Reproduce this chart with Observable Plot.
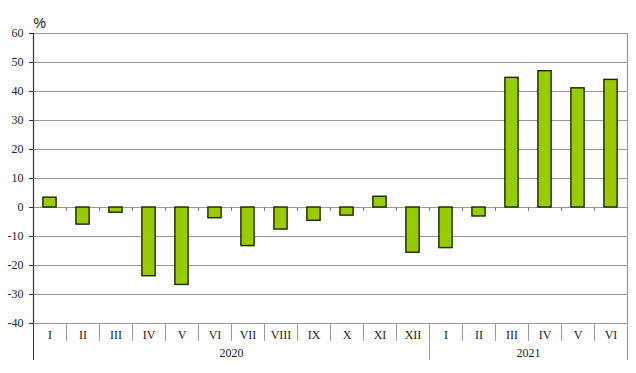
<!DOCTYPE html>
<html><head><meta charset="utf-8">
<script src="https://cdn.jsdelivr.net/npm/d3@7"></script>
<script src="https://cdn.jsdelivr.net/npm/@observablehq/plot@0.6"></script>
<style>body{margin:0;background:#fff}</style>
</head><body><div id="chart"></div>
<script>
const months = ["I","II","III","IV","V","VI","VII","VIII","IX","X","XI","XII","I","II","III","IV","V","VI"];
const years = ["2020","2021"];
const yearCounts = [12, 6];
const values = [3.4,-5.9,-1.8,-23.7,-26.7,-3.7,-13.3,-7.6,-4.6,-2.8,3.7,-15.6,-14.0,-3.1,44.7,47.0,41.1,44.0];
const yTicks = [-40,-30,-20,-10,0,10,20,30,40,50,60];

const data = values.map((v, i) => ({i, month: months[i], value: v}));
const idx = months.map((_, i) => i);
let start = 0;
const yearSpans = years.map((y, k) => { const s = start; start += yearCounts[k]; return {year: y, s, e: start}; });
const yearEdges = [-0.5, ...yearSpans.map(d => d.e - 0.5)];
const yearCenters = yearSpans.map(d => (d.s + d.e - 1) / 2);
const catEdges = idx.slice(0, -1).map(i => i + 0.5).filter(b => !yearEdges.includes(b));
const allInner = idx.slice(0, -1).map(i => i + 0.5);

const grid = "#9a9a9a";
const plot = Plot.plot({
  width: 636, height: 373,
  marginLeft: 33, marginRight: 9, marginTop: 33, marginBottom: 50,
  x: {domain: [-0.5, months.length - 0.5], axis: null},
  y: {domain: [-40, 60], axis: null},
  style: {fontFamily: "'Liberation Serif', 'Times New Roman', serif", fontSize: "12px", color: "#222", background: "#fff"},
  marks: [
    Plot.ruleY(yTicks, {stroke: grid, strokeWidth: 1.2}),
    Plot.ruleX([months.length - 0.5], {stroke: grid, strokeWidth: 1.2}),
    Plot.ruleX(allInner, {y1: 0, y2: 0, insetTop: 4, stroke: "#777"}),
    Plot.rectY(data, {x1: d => d.i - 0.2, x2: d => d.i + 0.2, y1: 0, y2: "value", fill: "#99cc00", stroke: "#1a2600", strokeWidth: 1.4}),
    Plot.axisY(yTicks, {tickSize: 4, tickPadding: 6, tickFormat: d => String(d), stroke: "#333", label: null}),
    Plot.ruleX([-0.5], {stroke: "#333", strokeWidth: 1.2}),
    Plot.axisX(idx, {tickSize: 0, tickPadding: 7, tickFormat: i => months[i], label: null}),
    Plot.axisX(catEdges, {tickSize: 18, tickFormat: () => "", stroke: grid, label: null}),
    Plot.axisX(yearEdges.slice(1), {tickSize: 37, tickFormat: () => "", stroke: grid, label: null}),
    Plot.axisX([-0.5], {tickSize: 37, tickFormat: () => "", stroke: "#333", label: null}),
    Plot.axisX(yearCenters, {tickSize: 0, tickPadding: 25, tickFormat: c => yearSpans[yearCenters.indexOf(c)].year, label: null}),
    Plot.text(["%"], {frameAnchor: "top-left", dx: 0, dy: -15, textAnchor: "start", fontFamily: "'Liberation Sans', Arial, sans-serif", fontSize: 14, fill: "#111"})
  ]
});
document.getElementById("chart").appendChild(plot);
</script>
</body></html>
